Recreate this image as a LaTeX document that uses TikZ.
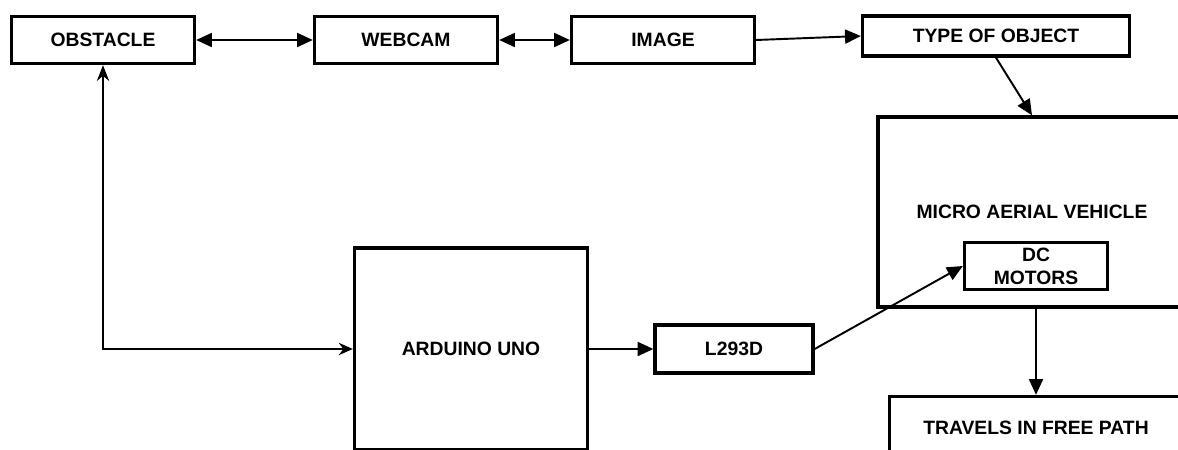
\documentclass[tikz,border=0pt]{standalone}
\usepackage{fontspec}
\setmainfont{Liberation Sans}
\usepackage{tikz}
\usetikzlibrary{arrows.meta, positioning, calc}

\begin{document}
\begin{tikzpicture}[
    x=0.02cm, y=-0.02cm,
    box/.style={
      rectangle, draw=black, line width=1.9pt, fill=white,
      font=\bfseries\fontsize{11}{13}\selectfont,
      minimum width=3.66cm, minimum height=0.94cm, align=center, inner sep=2pt
    },
    arr/.style={-{Triangle[length=9pt, width=8pt]}, line width=1.1pt},
    dblarr/.style={{Triangle[length=9pt, width=8pt]}-{Triangle[length=9pt, width=8pt]}, line width=1.1pt},
  ]

  \path[use as bounding box, clip] (0,0) rectangle (1178,450);

  % Top row
  \node[box] (obstacle) at (103,40) {OBSTACLE};
  \node[box] (webcam) at (406,40) {WEBCAM};
  \node[box] (image) at (663,40) {IMAGE};
  \node[box, minimum width=5.34cm, minimum height=0.8cm] (type) at (996,36) {TYPE OF OBJECT};

  % Vehicle
  \node[box, minimum width=6.16cm, minimum height=3.8cm] (mav) at (1032,212) {MICRO AERIAL VEHICLE};
  \node[box, minimum width=2.86cm] (dc) at (1036,266) {DC\\MOTORS};
  \node[box, minimum width=5.86cm, minimum height=1.26cm] (travels) at (1036,428) {TRAVELS IN FREE PATH};

  % Controller
  \node[box, minimum width=4.66cm, minimum height=4.04cm] (arduino) at (471,349) {ARDUINO UNO};
  \node[box, minimum width=3.16cm, minimum height=0.96cm] (driver) at (734,349) {L293D};

  % Arrows
  \draw[dblarr] (obstacle) -- (webcam);
  \draw[dblarr] (webcam) -- (image);
  \draw[arr] (image.east) -- (type.west);
  \draw[arr] (type.south) -- (mav.north);
  \draw[{Stealth[length=9pt, width=7pt]}-{Stealth[length=8pt, width=7pt]}, line width=1.1pt]
    (obstacle.south) |- (arduino.west);
  \draw[arr] (arduino) -- (driver);
  \draw[arr] (driver.east) -- (dc.west);
  \draw[arr] (travels.north |- mav.south) -- (travels.north);

\end{tikzpicture}
\end{document}
